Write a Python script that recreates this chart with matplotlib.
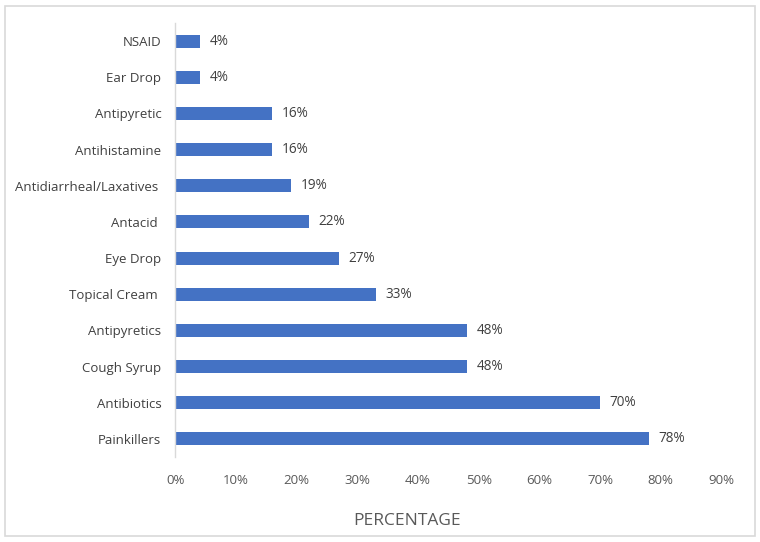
import matplotlib
matplotlib.use("Agg")
import matplotlib.pyplot as plt
from matplotlib.patches import Rectangle
from matplotlib.ticker import FuncFormatter

categories = ["Painkillers", "Antibiotics", "Cough Syrup", "Antipyretics", "Topical Cream ",
              "Eye Drop", "Antacid ", "Antidiarrheal/Laxatives ", "Antihistamine", "Antipyretic",
              "Ear Drop", "NSAID"]
values = [78, 70, 48, 48, 33, 27, 22, 19, 16, 16, 4, 4]
xticks = [0, 10, 20, 30, 40, 50, 60, 70, 80, 90]

plt.rcParams['font.family'] = ['Open Sans', 'DejaVu Sans']
text_color = "#595959"

fig = plt.figure(figsize=(7.6, 5.42), dpi=100)
fig.patches.append(Rectangle((5/760, 6/542), 750/760, 530/542, transform=fig.transFigure,
                             fill=False, edgecolor="#d9d9d9", linewidth=1.2))
ax = fig.add_axes([175.3/760, 1-457/542, (721.5-175.3)/760, (457-23)/542])

y = list(range(len(categories)))
ax.barh(y, values, height=0.36, color="#4472C4")
for yi, v in zip(y, values):
    ax.text(v + 1.6, yi, f"{v}%", va="center", ha="left", fontsize=9.8, color="#404040")

ax.set_xlim(0, 90)
ax.set_ylim(-0.5, len(categories) - 0.5)
ax.set_yticks(y)
ax.set_yticklabels(categories, fontsize=9.5, color="#404040")
ax.set_xticks(xticks)
ax.xaxis.set_major_formatter(FuncFormatter(lambda x, p: f"{int(x)}%"))
ax.tick_params(axis="x", length=0, labelsize=9.5, labelcolor=text_color, pad=12)
ax.tick_params(axis="y", length=0, pad=10)
for s in ["top", "right", "bottom"]:
    ax.spines[s].set_visible(False)
ax.spines["left"].set_color("#d9d9d9")
ax.spines["left"].set_linewidth(1)
fig.text(407/760, 1-521/542, "PERCENTAGE", fontsize=12.5, color=text_color,
         ha="center", va="center")

fig.savefig("out.png", dpi=100)
